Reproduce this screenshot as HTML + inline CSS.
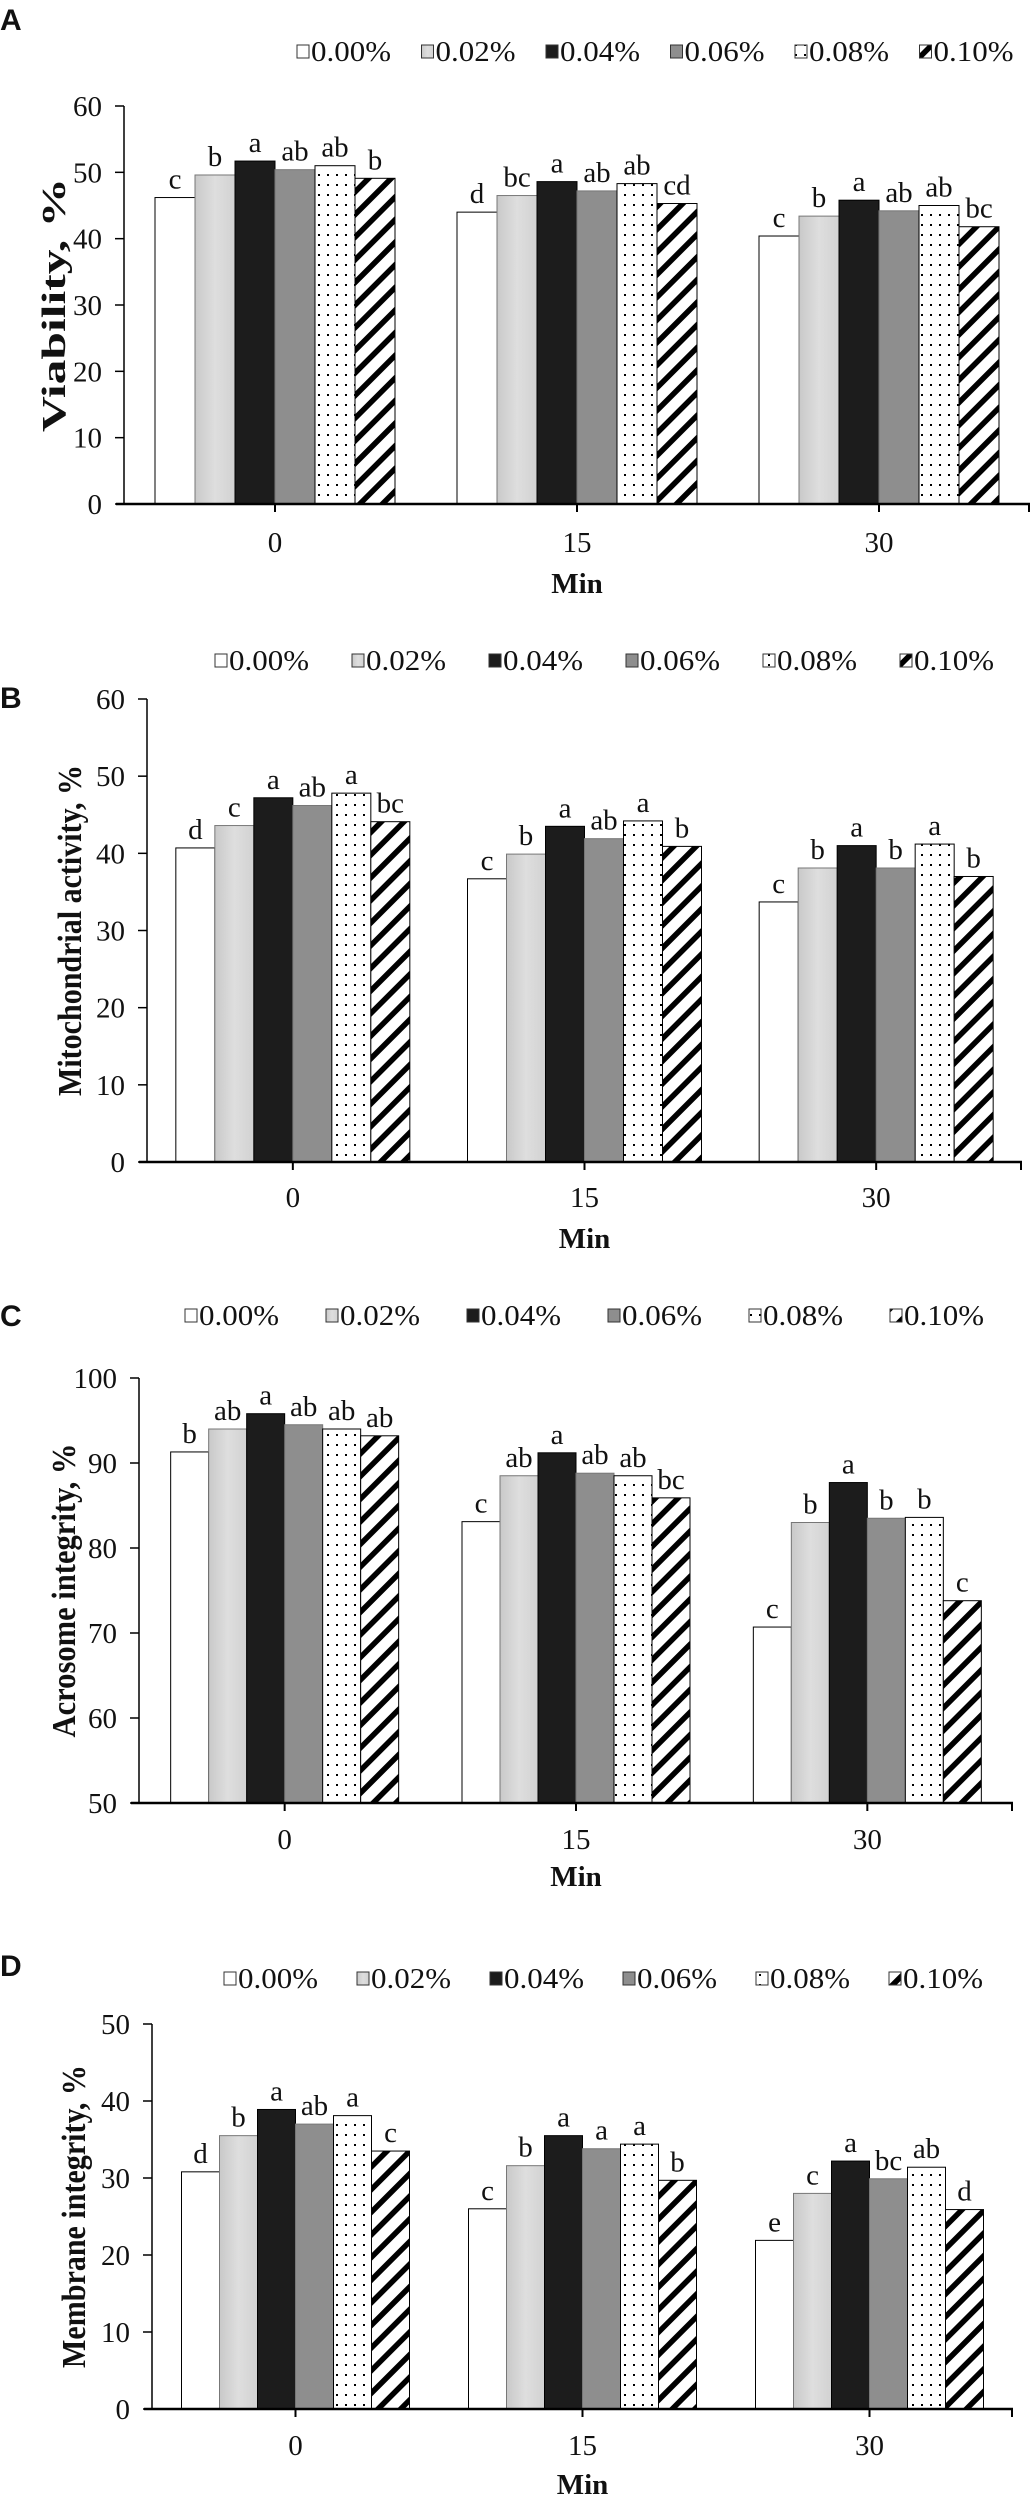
<!DOCTYPE html>
<html><head><meta charset="utf-8">
<style>
html,body{margin:0;padding:0;background:#fff;}
svg{display:block;}
text{font-family:"Liberation Serif",serif;fill:#111;}
.sans{font-family:"Liberation Sans",sans-serif;font-weight:bold;}
</style></head>
<body>
<svg id="fig" width="1032" height="2500" viewBox="0 0 1032 2500" xmlns="http://www.w3.org/2000/svg">
<defs>
<linearGradient id="gLight" x1="0" y1="0" x2="1" y2="0">
<stop offset="0" stop-color="#c9c9c9"/><stop offset="0.5" stop-color="#dedede"/><stop offset="1" stop-color="#d2d2d2"/>
</linearGradient>
<pattern id="pDots" patternUnits="userSpaceOnUse" width="9" height="10">
<rect width="9" height="10" fill="#fff"/><rect x="3" y="4" width="2" height="2" fill="#000"/>
</pattern>
<pattern id="pStripe" patternUnits="userSpaceOnUse" width="16" height="16" patternTransform="rotate(45)">
<rect width="16" height="16" fill="#fff"/><rect x="0" y="0" width="5.5" height="16" fill="#000"/>
</pattern>
</defs>
</svg>
<script>
const categories = ["0", "15", "30"];
const seriesLabels = ["0.00%", "0.02%", "0.04%", "0.06%", "0.08%", "0.10%"];

const valuesA = [[46.2,49.6,51.7,50.4,51.0,49.1],[44.0,46.5,48.6,47.2,48.3,45.3],[40.4,43.4,45.8,44.2,45.0,41.8]];
const lettersA = [["c","b","a","ab","ab","b"],["d","bc","a","ab","ab","cd"],["c","b","a","ab","ab","bc"]];
const ticksA = [0,10,20,30,40,50,60];

const valuesB = [[40.7,43.6,47.2,46.2,47.8,44.1],[36.7,39.9,43.5,41.9,44.2,40.9],[33.7,38.1,41.0,38.1,41.2,37.0]];
const lettersB = [["d","c","a","ab","a","bc"],["c","b","a","ab","a","b"],["c","b","a","b","a","b"]];
const ticksB = [0,10,20,30,40,50,60];

const valuesC = [[91.3,94.0,95.8,94.5,94.0,93.2],[83.1,88.5,91.2,88.8,88.5,85.9],[70.7,83.0,87.7,83.5,83.6,73.8]];
const lettersC = [["b","ab","a","ab","ab","ab"],["c","ab","a","ab","ab","bc"],["c","b","a","b","b","c"]];
const ticksC = [50,60,70,80,90,100];

const valuesD = [[30.8,35.5,38.9,37.0,38.1,33.5],[26.0,31.6,35.5,33.8,34.4,29.7],[21.9,28.0,32.2,29.9,31.4,25.9]];
const lettersD = [["d","b","a","ab","a","c"],["c","b","a","a","a","b"],["e","c","a","bc","ab","d"]];
const ticksD = [0,10,20,30,40,50];

const fills = ["#fff","url(#gLight)","#1c1c1c","#8e8e8e","url(#pDots)","url(#pStripe)"];
const NS = "http://www.w3.org/2000/svg";
const svg = document.getElementById("fig");

function mk(tag, attrs, parent, txt){
  const e = document.createElementNS(NS, tag);
  for (const k in attrs) e.setAttribute(k, attrs[k]);
  if (txt !== undefined) e.textContent = txt;
  (parent || svg).appendChild(e);
  return e;
}

const panels = [
  {id:"a", label:"A", labelY:30, title:"Viability, %", titleX:53, titleLen:254, left:124, right:1030, top:106, bottom:504, legY:51, legX:297, legStep:124.5, bw:40, values:valuesA, letters:lettersA, ticks:ticksA, tickY:542, minY:583},
  {id:"b", label:"B", labelY:708, title:"Mitochondrial activity, %", titleX:69, titleLen:331, left:147, right:1022, top:699, bottom:1162, legY:660, legX:215, legStep:137, bw:39, values:valuesB, letters:lettersB, ticks:ticksB, tickY:1197, minY:1238},
  {id:"c", label:"C", labelY:1326, title:"Acrosome integrity, %", titleX:63, titleLen:294, left:139, right:1013, top:1378, bottom:1803, legY:1315, legX:185, legStep:141, bw:38, values:valuesC, letters:lettersC, ticks:ticksC, tickY:1839, minY:1876},
  {id:"d", label:"D", labelY:1976, title:"Membrane integrity, %", titleX:73, titleLen:303, left:152, right:1013, top:2024, bottom:2409, legY:1978, legX:224, legStep:133, bw:38, values:valuesD, letters:lettersD, ticks:ticksD, tickY:2445, minY:2484}
];

panels.forEach(p => {
  const g = mk("g", {});
  
  
  const ymin = p.ticks[0], ymax = p.ticks[p.ticks.length-1];
  const yS = v => p.bottom - (v - ymin) / (ymax - ymin) * (p.bottom - p.top);
  const band = (p.right - p.left) / categories.length;
  const xC = i => p.left + band * (i + 0.5);

  const pl = mk("text", {x:0, y:p.labelY, "font-size":30, class:"sans"}, g, p.label);
  
  

  seriesLabels.forEach((s, k) => {
    const lg = mk("g", {}, g);
    
    
    const bx = p.legX + k * p.legStep;
    mk("rect", {x:bx, y:p.legY-6, width:12, height:13, fill:fills[k], stroke:"#333", "stroke-width":1}, lg);
    mk("text", {x:bx+14, y:p.legY+10, "font-size":29, textLength:80, lengthAdjust:"spacingAndGlyphs"}, lg, s);
  });

  p.ticks.forEach(t => {
    const y = yS(t);
    mk("line", {x1:p.left-9, x2:p.left, y1:y, y2:y, stroke:"#000", "stroke-width":1.5}, g);
    const tl = mk("text", {x:p.left-22, y:y+10, "font-size":29, "text-anchor":"end"}, g, String(t));
    
    
  });

  p.values.forEach((grp, i) => {
    const x0 = xC(i) - p.bw * grp.length / 2;
    grp.forEach((v, k) => {
      const x = x0 + k * p.bw, y = yS(v);
      const r = mk("rect", {x:x, y:y, width:p.bw, height:p.bottom - y, fill:fills[k], stroke:(k==1||k==3)?"#777":"#000", "stroke-width":1}, g);
      
      
      const lt = mk("text", {x:x + p.bw/2, y:y - 9, "font-size":29, "text-anchor":"middle"}, g, p.letters[i][k]);
      
      
    });
    mk("line", {x1:xC(i), x2:xC(i), y1:p.bottom, y2:p.bottom+8, stroke:"#000", "stroke-width":2}, g);
    const cl = mk("text", {x:xC(i), y:p.tickY+10, "font-size":29, "text-anchor":"middle"}, g, categories[i]);
    
    
  });

  const ya = mk("line", {x1:p.left, x2:p.left, y1:p.top, y2:p.bottom, stroke:"#000", "stroke-width":1.5}, g);
  
  
  const xa = mk("line", {x1:p.left-8, x2:p.right, y1:p.bottom, y2:p.bottom, stroke:"#000", "stroke-width":2.5}, g);
  
  
  mk("line", {x1:p.right-1, x2:p.right-1, y1:p.bottom, y2:p.bottom+8, stroke:"#000", "stroke-width":2}, g);

  const midY = (p.top + p.bottom) / 2;
  const yt = mk("text", {x:p.titleX, y:midY, "font-size":34, "font-weight":"bold", "text-anchor":"middle", transform:"rotate(-90 " + p.titleX + " " + midY + ")", dy:"12", textLength:p.titleLen, lengthAdjust:"spacingAndGlyphs"}, g, p.title);
  
  
  const xt = mk("text", {x:(p.left+p.right)/2, y:p.minY+10, "font-size":29, "font-weight":"bold", "text-anchor":"middle"}, g, "Min");
  
  
});
</script>
</body></html>
